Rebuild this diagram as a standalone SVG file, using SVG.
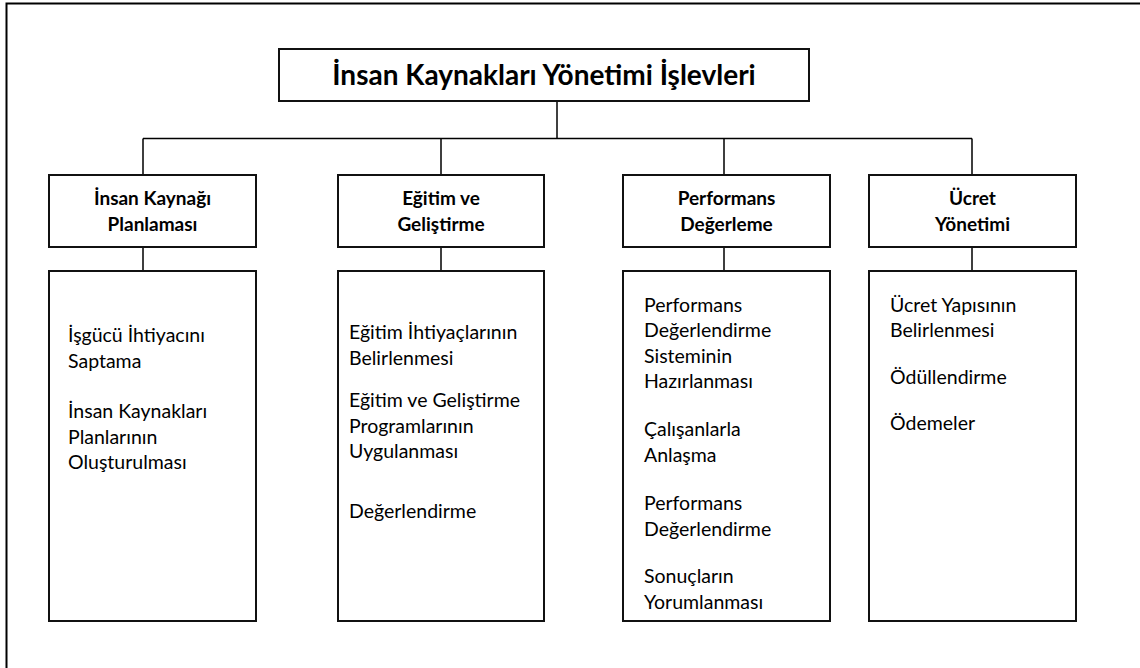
<svg xmlns="http://www.w3.org/2000/svg" width="1140" height="668" viewBox="0 0 1140 668">
  <style>
    .frame { fill: none; stroke: #000; stroke-width: 2; }
    .box { fill: #fff; stroke: #111; stroke-width: 2; }
    .link { fill: none; stroke: #000; stroke-width: 1.5; }
    .title { font-family: Lato, "Liberation Sans", sans-serif; font-weight: bold; font-size: 28px; fill: #000; text-anchor: middle; }
    .head { font-family: Lato, "Liberation Sans", sans-serif; font-weight: bold; font-size: 19px; fill: #000; text-anchor: middle; }
    .item { font-family: Lato, "Liberation Sans", sans-serif; font-size: 19.5px; fill: #000; }
  </style>

  <rect width="1140" height="668" fill="#fff"/>
  <!-- page frame (only top and left edges fall inside the page) -->
  <rect class="frame" x="6.5" y="3.5" width="1200" height="720"/>

  <!-- connectors -->
  <g id="connectors">
    <path class="link" d="M557,101 V138.5"/>
    <path class="link" d="M143,138.5 H972"/>
    <path class="link" d="M143,138.5 V175 M441,138.5 V175 M724,138.5 V175 M972,138.5 V175"/>
    <path class="link" d="M143,247 V271 M441,247 V271 M724,247 V271 M972,247 V271"/>
  </g>

  <!-- root -->
  <g id="root">
    <rect class="box" x="279" y="49" width="530" height="52"/>
    <text class="title" x="544" y="85">İnsan Kaynakları Yönetimi İşlevleri</text>
  </g>

  <!-- second level -->
  <g id="planning">
    <rect class="box" x="49" y="175" width="207" height="72"/>
    <text class="head" x="152.5" y="205">İnsan Kaynağı</text>
    <text class="head" x="152.5" y="231">Planlaması</text>
  </g>
  <g id="training">
    <rect class="box" x="338" y="175" width="206" height="72"/>
    <text class="head" x="441" y="205">Eğitim ve</text>
    <text class="head" x="441" y="231">Geliştirme</text>
  </g>
  <g id="appraisal">
    <rect class="box" x="623" y="175" width="207" height="72"/>
    <text class="head" x="726.5" y="205">Performans</text>
    <text class="head" x="726.5" y="231">Değerleme</text>
  </g>
  <g id="pay">
    <rect class="box" x="869" y="175" width="207" height="72"/>
    <text class="head" x="972.5" y="205">Ücret</text>
    <text class="head" x="972.5" y="231">Yönetimi</text>
  </g>

  <!-- third level -->
  <g id="planning-tasks">
    <rect class="box" x="49" y="271" width="207" height="350"/>
    <text class="item" x="68" y="342">İşgücü İhtiyacını</text>
    <text class="item" x="68" y="367.5">Saptama</text>
    <text class="item" x="68" y="418">İnsan Kaynakları</text>
    <text class="item" x="68" y="443.5">Planlarının</text>
    <text class="item" x="68" y="469">Oluşturulması</text>
  </g>
  <g id="training-tasks">
    <rect class="box" x="338" y="271" width="206" height="350"/>
    <text class="item" x="349" y="339">Eğitim İhtiyaçlarının</text>
    <text class="item" x="349" y="364.5">Belirlenmesi</text>
    <text class="item" x="349" y="407">Eğitim ve Geliştirme</text>
    <text class="item" x="349" y="432.5">Programlarının</text>
    <text class="item" x="349" y="458">Uygulanması</text>
    <text class="item" x="349" y="518">Değerlendirme</text>
  </g>
  <g id="appraisal-tasks">
    <rect class="box" x="623" y="271" width="207" height="350"/>
    <text class="item" x="644" y="311.5">Performans</text>
    <text class="item" x="644" y="337">Değerlendirme</text>
    <text class="item" x="644" y="362.5">Sisteminin</text>
    <text class="item" x="644" y="388">Hazırlanması</text>
    <text class="item" x="644" y="436">Çalışanlarla</text>
    <text class="item" x="644" y="461.5">Anlaşma</text>
    <text class="item" x="644" y="510">Performans</text>
    <text class="item" x="644" y="535.5">Değerlendirme</text>
    <text class="item" x="644" y="583">Sonuçların</text>
    <text class="item" x="644" y="608.5">Yorumlanması</text>
  </g>
  <g id="pay-tasks">
    <rect class="box" x="869" y="271" width="207" height="350"/>
    <text class="item" x="890" y="311.5">Ücret Yapısının</text>
    <text class="item" x="890" y="337">Belirlenmesi</text>
    <text class="item" x="890" y="384">Ödüllendirme</text>
    <text class="item" x="890" y="430">Ödemeler</text>
  </g>
</svg>
